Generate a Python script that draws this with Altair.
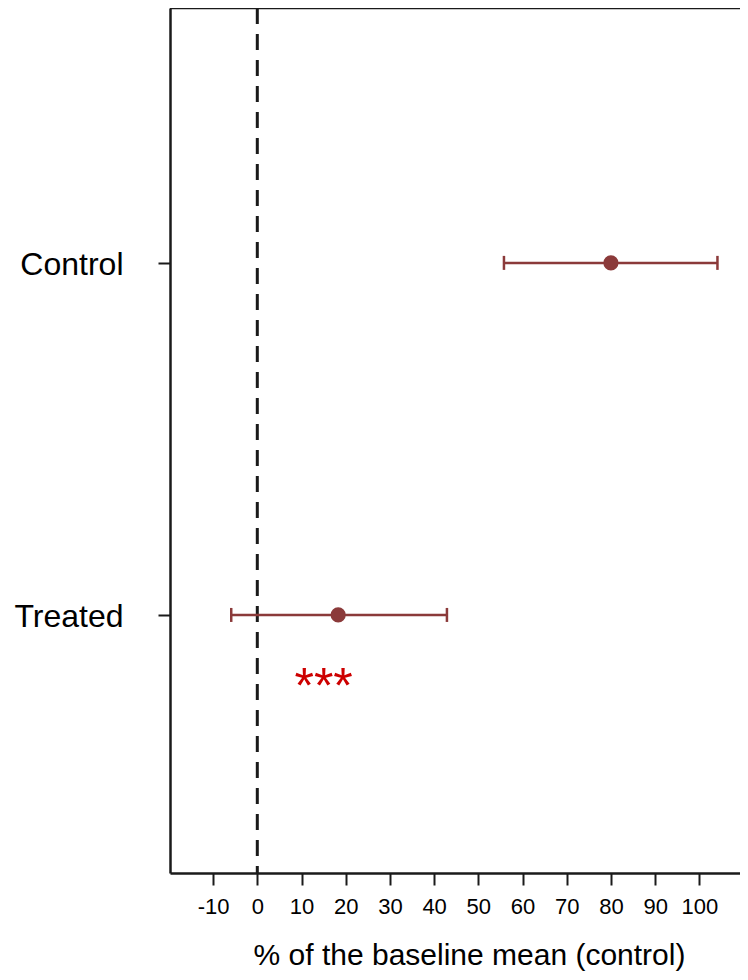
import altair as alt
import pandas as pd

# ---- data ----
groups = ["Control", "Treated"]
group_pos = [2, 1]
estimate = [80.0, 18.3]
ci_low = [55.8, -5.9]
ci_high = [104.1, 42.9]

ref_line = [0]

sig_x = [15]
sig_y = [0.75]
sig_label = ["***"]

x_ticks = [-10, 0, 10, 20, 30, 40, 50, 60, 70, 80, 90, 100]
x_domain = [-19.75, 109.2]
y_domain = [0.267, 2.724]

W, H = 570, 865
LINE = "#1a1a1a"
PT = "#8B3A3A"
STAR = "#CD0000"
FONT = "Liberation Sans"

df = pd.DataFrame({"group": groups, "pos": group_pos, "est": estimate,
                   "lo": ci_low, "hi": ci_high})
ref_df = pd.DataFrame({"x": ref_line})
sig_df = pd.DataFrame({"x": sig_x, "y": sig_y, "label": sig_label})

xscale = alt.Scale(domain=x_domain, nice=False, zero=False)
yscale = alt.Scale(domain=y_domain, nice=False, zero=False)

x_axis = alt.Axis(values=x_ticks, grid=False, domain=True, domainColor=LINE,
                  domainWidth=2.5, tickColor=LINE, tickWidth=2, tickSize=12,
                  labelFont=FONT, labelFontSize=22, labelColor="black",
                  labelPadding=11, labelOverlap=False, labelFlush=False,
                  labelExpr="datum.value + ''",
                  title="% of the baseline mean (control)", titleFont=FONT,
                  titleFontSize=30, titleFontWeight="normal", titleColor="black",
                  titleBaseline="alphabetic", titleY=91, titleX=299)
y_axis = alt.Axis(values=[1, 2], grid=False, domain=True, domainColor=LINE,
                  domainWidth=2.5, tickColor=LINE, tickWidth=2, tickSize=12,
                  labelFont=FONT, labelFontSize=32, labelColor="black",
                  labelPadding=35, labelOffset=2,
                  labelExpr="datum.value == 2 ? 'Control' : 'Treated'",
                  title=None)

base = alt.Chart(df)

bars = base.mark_rule(color=PT, strokeWidth=2.5, opacity=1).encode(
    x=alt.X("lo:Q", scale=xscale, axis=x_axis),
    x2="hi:Q",
    y=alt.Y("pos:Q", scale=yscale, axis=y_axis),
)
cap_lo = base.mark_tick(color=PT, orient="vertical", size=14, thickness=2.5,
                        opacity=1).encode(
    x=alt.X("lo:Q", scale=xscale), y=alt.Y("pos:Q", scale=yscale))
cap_hi = base.mark_tick(color=PT, orient="vertical", size=14, thickness=2.5,
                        opacity=1).encode(
    x=alt.X("hi:Q", scale=xscale), y=alt.Y("pos:Q", scale=yscale))
pts = base.mark_circle(color=PT, size=230, opacity=1).encode(
    x=alt.X("est:Q", scale=xscale), y=alt.Y("pos:Q", scale=yscale))

zero = alt.Chart(ref_df).mark_rule(color=LINE, strokeWidth=3, strokeDash=[16, 10]).encode(
    x=alt.X("x:Q", scale=xscale), y=alt.value(0), y2=alt.value(H))

top = alt.Chart(ref_df).mark_rule(color=LINE, strokeWidth=2.5).encode(
    x=alt.value(0), x2=alt.value(W), y=alt.value(0))

stars = alt.Chart(sig_df).mark_text(color=STAR, font=FONT, fontSize=50,
                                    fontWeight="normal", baseline="alphabetic",
                                    align="center").encode(
    x=alt.X("x:Q", scale=xscale), y=alt.Y("y:Q", scale=yscale), text="label:N")

chart = alt.layer(zero, top, bars, cap_lo, cap_hi, pts, stars).properties(
    width=W, height=H,
    autosize=alt.AutoSizeParams(type="none"),
    padding={"left": 162, "top": 0, "right": 0, "bottom": 99},
).configure_view(stroke=None).configure(background="white")

chart.save("out.html", embed_options={"renderer": "svg", "actions": False})
